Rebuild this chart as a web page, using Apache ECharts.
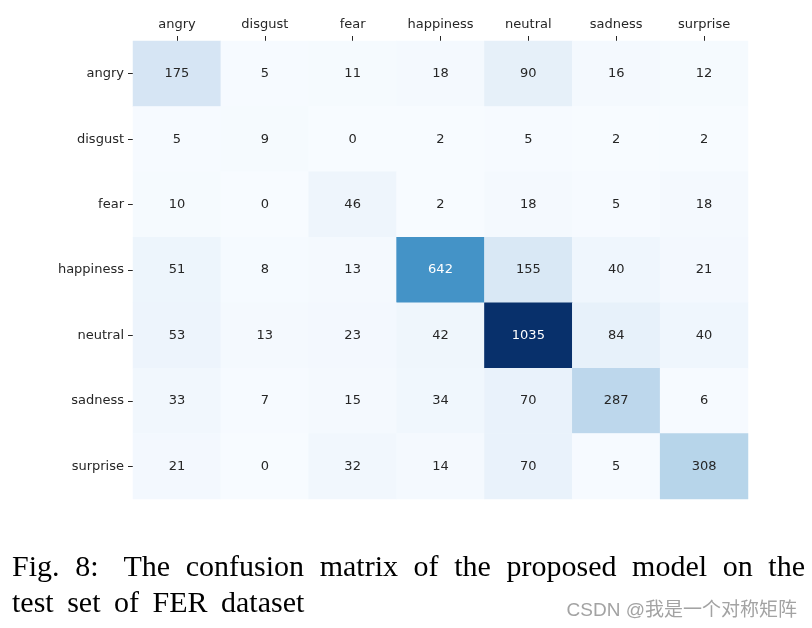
<!DOCTYPE html>
<html>
<head>
<meta charset="utf-8">
<script src="https://cdn.jsdelivr.net/npm/echarts@6/dist/echarts.min.js"></script>
<style>
html,body{margin:0;padding:0;background:#fff;}
#chart{width:812px;height:628px;}
</style>
</head>
<body>
<div id="chart"></div>
<script>
const classes = ['angry','disgust','fear','happiness','neutral','sadness','surprise'];
const rowAngry     = [175, 5, 11, 18, 90, 16, 12];
const rowDisgust   = [5, 9, 0, 2, 5, 2, 2];
const rowFear      = [10, 0, 46, 2, 18, 5, 18];
const rowHappiness = [51, 8, 13, 642, 155, 40, 21];
const rowNeutral   = [53, 13, 23, 42, 1035, 84, 40];
const rowSadness   = [33, 7, 15, 34, 70, 287, 6];
const rowSurprise  = [21, 0, 32, 14, 70, 5, 308];
const captionLine1 = 'Fig. 8: The confusion matrix of the proposed model on the';
const captionLine2 = 'test set of FER dataset';
const watermark = 'CSDN @我是一个对称矩阵';

const rows = [rowAngry, rowDisgust, rowFear, rowHappiness, rowNeutral, rowSadness, rowSurprise];
const vmax = Math.max(...rows.map(r => Math.max(...r)));
const blues = ['#f7fbff','#deebf7','#c6dbef','#9ecae1','#6baed6','#4292c6','#2171b5','#08519c','#08306b'];

const data = [];
rows.forEach((r, yi) => r.forEach((v, xi) => {
  data.push({ value: [xi, yi, v], label: { color: v / vmax > 0.55 ? '#ffffff' : '#262626' } });
}));

// caption layout: line 1 justified (extra stretch after ':'), line 2 with fixed word spacing
const capFont = '30px "Liberation Serif"';
const ctx = document.createElement('canvas').getContext('2d');
ctx.font = capFont;
const graphics = [];
function placeLine(text, top, x0, x1, fixedGap) {
  const words = text.split(' ');
  const widths = words.map(w => ctx.measureText(w).width);
  const weights = words.slice(0, -1).map(w => /:$/.test(w) ? 1.6 : 1);
  const wsum = weights.reduce((a, b) => a + b, 0);
  const g = fixedGap != null ? fixedGap : (x1 - x0 - widths.reduce((a, b) => a + b, 0)) / wsum;
  let cx = x0;
  words.forEach((w, i) => {
    graphics.push({ type: 'text', left: cx, top: top, style: { text: w, font: capFont, fill: '#000' } });
    cx += widths[i] + (i < weights.length ? g * weights[i] : 0);
  });
}
placeLine(captionLine1, 553, 12, 805, null);
placeLine(captionLine2, 589, 12, 0, 13.5);
graphics.push({ type: 'text', right: 15, top: 601, style: { text: watermark, font: '19px "Liberation Sans","Noto Sans CJK SC"', fill: '#a3a3a3' } });

const chart = echarts.init(document.getElementById('chart'), null, { renderer: 'canvas' });
chart.setOption({
  animation: false,
  backgroundColor: '#fff',
  grid: { left: 133, right: 64, top: 41, bottom: 129 },
  xAxis: {
    type: 'category', data: classes, position: 'top',
    axisLine: { show: false },
    axisTick: { show: true, alignWithLabel: true, length: 5, lineStyle: { color: '#262626' } },
    axisLabel: { color: '#262626', fontSize: 13, fontFamily: 'DejaVu Sans', margin: 10 },
    splitLine: { show: false }
  },
  yAxis: {
    type: 'category', data: classes, inverse: true,
    axisLine: { show: false },
    axisTick: { show: true, alignWithLabel: true, length: 5, lineStyle: { color: '#262626' } },
    axisLabel: { color: '#262626', fontSize: 13, fontFamily: 'DejaVu Sans', margin: 9 },
    splitLine: { show: false }
  },
  visualMap: { show: false, min: 0, max: vmax, dimension: 2, inRange: { color: blues } },
  series: [{
    type: 'heatmap',
    data: data,
    label: { show: true, fontSize: 13, fontFamily: 'DejaVu Sans' },
    itemStyle: { borderWidth: 0 },
    emphasis: { disabled: true }
  }],
  graphic: graphics
});
</script>
</body>
</html>
